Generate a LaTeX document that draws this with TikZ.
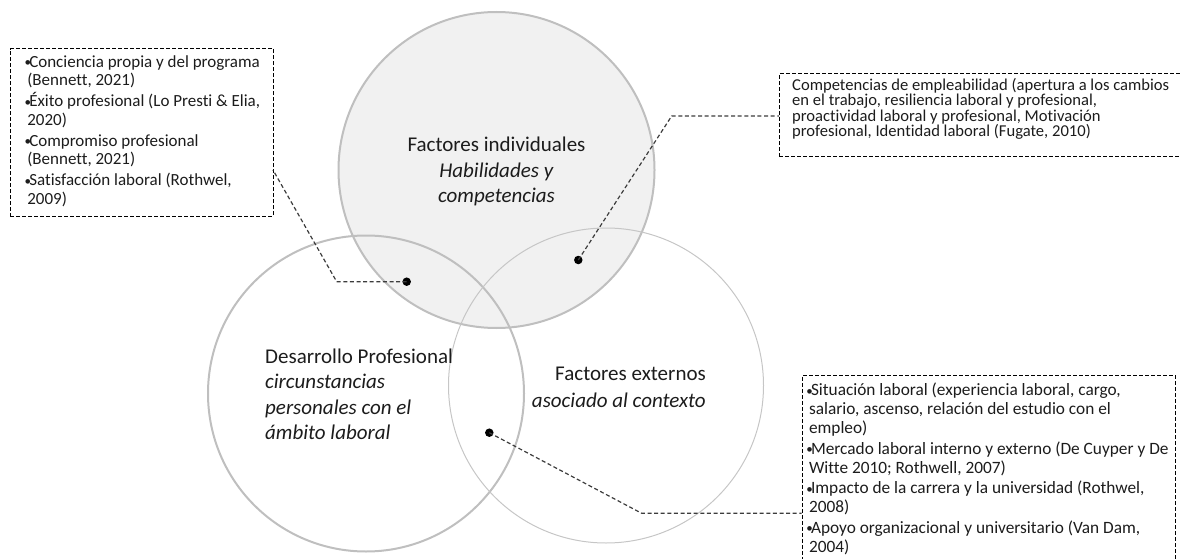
\documentclass[tikz,border=0pt]{standalone}
\usepackage{fontspec}
\setmainfont{Carlito}[Ligatures=NoCommon]
\definecolor{ringline}{HTML}{BFBFBF}
\definecolor{ringthin}{HTML}{C6C6C6}
\definecolor{ringfill}{HTML}{F1F1F1}
\definecolor{inktext}{HTML}{1C1C1C}
\definecolor{leaderink}{HTML}{3C3C3C}
\newcommand\bul{\makebox[4.6pt][l]{\raisebox{0.4pt}{\fontsize{13}{13}\selectfont\textbullet}}}
\newcommand\cont{\hspace*{2.6pt}}
\begin{document}
\begin{tikzpicture}[x=1pt,y=-1pt,
  ring/.style={circle, draw=ringline, line width=2pt, inner sep=0pt, minimum size=316pt},
  thinring/.style={circle, draw=ringthin, line width=1pt, inner sep=0pt, minimum size=315pt},
  biglabel/.style={inner sep=0pt, text=inktext, font=\fontsize{21}{25.5}\selectfont, text width=220pt},
  notebox/.style={draw=black, line width=0.9pt, dash pattern=on 4pt off 2pt, inner sep=0pt, anchor=north west},
  notetext/.style={inner sep=0pt, text=inktext, align=flush left, text width=400pt, anchor=base west},
  leader/.style={draw=leaderink, line width=1.2pt, dash pattern=on 4pt off 2.6pt},
  pin/.style={circle, fill=black, inner sep=0pt, minimum size=8.5pt}]
\useasboundingbox (0,0) rectangle (1181,559);
\clip (0,0) rectangle (1181,559);

% the three overlapping circles
\node[ring, fill=ringfill] (indiv) at (496.5,170) {};
\node[ring] (desarrollo) at (366,393.5) {};
\node[thinring] (externos) at (606,385.5) {};

% circle labels
\node[biglabel, align=flush center, anchor=base] (indivtxt) at (496.5,152)
  {Factores individuales\\ \textit{Habilidades y}\\ \textit{competencias}};
\node[biglabel, align=flush left, anchor=base west] (desarrollotxt) at (265,363)
  {Desarrollo Profesional\\ \textit{circunstancias}\\ \textit{personales con el}\\ \textit{ámbito laboral}};
\node[biglabel, align=flush right, anchor=base east, font=\fontsize{21}{27}\selectfont] (externostxt) at (706,380)
  {Factores externos\\ \textit{asociado al contexto}};

% dashed note boxes
\node[notebox, minimum width=263pt, minimum height=167.4pt] (lbox) at (10,48.3) {};
\node[notebox, minimum width=420pt, minimum height=82.5pt] (tbox) at (779,73.5) {};
\node[notebox, minimum width=373.3pt, minimum height=200pt] (bbox) at (801.7,375) {};

\node[notetext, font=\fontsize{17}{18.3}\selectfont] (ltext) at (24.5,67.2)
  {\bul Conciencia propia y del programa\\
   \cont(Bennett, 2021)\\[3pt]
   \bul Éxito profesional (Lo Presti \& Elia,\\
   \cont 2020)\\[3pt]
   \bul Compromiso profesional\\
   \cont(Bennett, 2021)\\[3pt]
   \bul Satisfacción laboral (Rothwel,\\
   \cont 2009)};

\node[notetext, font=\fontsize{16.6}{13.8}\selectfont] (ttext) at (792,90.5)
  {Competencias de empleabilidad (apertura a los cambios\\
   en el trabajo, resiliencia laboral y profesional,\\
   proactividad laboral y profesional, Motivación\\
   profesional, Identidad laboral (Fugate, 2010)};

\node[notetext, font=\fontsize{17.3}{19}\selectfont] (btext) at (806.2,395.5)
  {\bul Situación laboral (experiencia laboral, cargo,\\
   \cont salario, ascenso, relación del estudio con el\\
   \cont empleo)\\[1.5pt]
   \bul Mercado laboral interno y externo (De Cuyper y De\\
   \cont Witte 2010; Rothwell, 2007)\\[1.5pt]
   \bul Impacto de la carrera y la universidad (Rothwel,\\
   \cont 2008)\\[1.5pt]
   \bul Apoyo organizacional y universitario (Van Dam,\\
   \cont 2004)};

% leader lines from the overlap regions to the notes
\node[pin] (ldot) at (406.7,281.7) {};
\node[pin] (rdot) at (578.3,260) {};
\node[pin] (bdot) at (489.3,432.7) {};
\coordinate (lbend) at (336.7,281.7);
\coordinate (lend) at (273,170);
\coordinate (rbend) at (671.7,116);
\coordinate (rend) at (779,116);
\coordinate (bbend) at (641.7,513.3);
\coordinate (bend) at (801.7,513.3);

\draw[leader] (ldot.center) -- (lbend) -- (lend);
\draw[leader] (rdot.center) -- (rbend) -- (rend);
\draw[leader] (bdot.center) -- (bbend) -- (bend);
\end{tikzpicture}
\end{document}
